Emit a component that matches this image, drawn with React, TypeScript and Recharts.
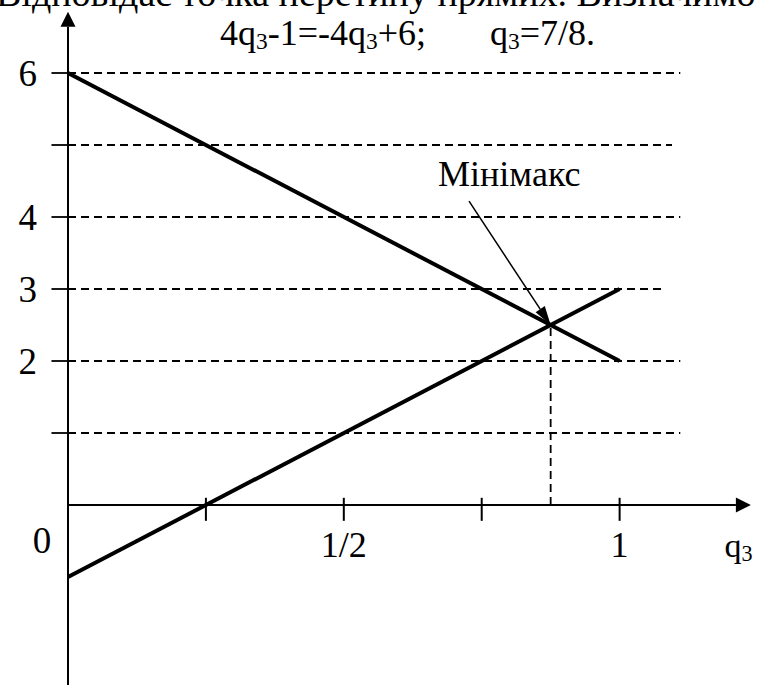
import { ComposedChart, Line, XAxis, YAxis, ReferenceLine, ReferenceDot, Customized } from "recharts";

// two payoff lines over q3 in [0, 1]
const qValues = [0, 1];
const upperLine = [6, 2]; // -4q3 + 6
const lowerLine = [-1, 3]; // 4q3 - 1
const crossQ = 7 / 8;
const crossY = 2.5;

// dashed levels and where each dash run stops on the right
const gridLevels = [6, 5, 4, 3, 2, 1];
const gridEnds = [1.11, 1.095, 1.11, 1.082, 1.11, 1.11];

const yTickLabels = ["6", "4", "3", "2"];
const yTickValues = [6, 4, 3, 2];
const xTickValues = [0.25, 0.5, 0.75, 1];
const xTickLabels = ["1/2", "1"];
const xTickLabelValues = [0.5, 1];

const X_DOMAIN: [number, number] = [0, 1.24];
const Y_DOMAIN: [number, number] = [-2.5, 7];

const FONT = "'Liberation Serif', 'Times New Roman', serif";

const data = qValues.map((q, i) => ({ q, upper: upperLine[i], lower: lowerLine[i] }));

const arrowShape = (head: number, width: number, sw: number) => (props: any) => {
  const { x1, y1, x2, y2 } = props;
  const ang = Math.atan2(y2 - y1, x2 - x1);
  const bx = x2 - head * Math.cos(ang);
  const by = y2 - head * Math.sin(ang);
  const px = (-Math.sin(ang) * width) / 2;
  const py = (Math.cos(ang) * width) / 2;
  return (
    <g>
      <line x1={x1} y1={y1} x2={bx} y2={by} stroke="#000" strokeWidth={sw} />
      <polygon points={`${x2},${y2} ${bx + px},${by + py} ${bx - px},${by - py}`} fill="#000" />
    </g>
  );
};

const textShape = (text: string, size: number, anchor: string) => (props: any) => (
  <text
    x={props.cx}
    y={props.cy}
    dy="0.35em"
    textAnchor={anchor}
    fontFamily={FONT}
    fontSize={size}
    fill="#000"
  >
    {text}
  </text>
);

const SubLabel = ({ x, y, parts, size }: { x: number; y: number; parts: [string, boolean][]; size: number }) => (
  <text x={x} y={y} fontFamily={FONT} fontSize={size} fill="#000">
    {parts.map(([t, sub], i) => (
      <tspan key={i} fontSize={sub ? size * 0.65 : size} dy={sub ? 4 : i > 0 && parts[i - 1][1] ? -4 : 0}>
        {t}
      </tspan>
    ))}
  </text>
);

const Header = () => (
  <g>
    <text x={-4} y={6} fontFamily={FONT} fontSize={38} fill="#000">
      Відповідає точка перетину прямих. Визначимо
    </text>
    <SubLabel
      x={220}
      y={45}
      size={36}
      parts={[
        ["4q", false],
        ["3", true],
        ["-1=-4q", false],
        ["3", true],
        ["+6;", false],
      ]}
    />
    <SubLabel
      x={490}
      y={45}
      size={36}
      parts={[
        ["q", false],
        ["3", true],
        ["=7/8.", false],
      ]}
    />
  </g>
);

export default function App() {
  return (
    <div style={{ position: "absolute", left: 0, top: 0, background: "#fff" }}>
      <ComposedChart
        width={757}
        height={691}
        data={data}
        margin={{ top: 1, right: 5, bottom: 6, left: 68 }}
      >
        <XAxis type="number" dataKey="q" domain={X_DOMAIN} hide allowDataOverflow />
        <YAxis type="number" domain={Y_DOMAIN} hide allowDataOverflow />

        {/* dashed horizontal levels with short solid ticks on the axis */}
        {gridLevels.map((lv, i) => (
          <ReferenceLine
            key={`g${lv}`}
            segment={[
              { x: 0, y: lv },
              { x: gridEnds[i], y: lv },
            ]}
            stroke="#000"
            strokeWidth={1.8}
            strokeDasharray="8 5"
            ifOverflow="visible"
          />
        ))}
        {gridLevels.map((lv) => (
          <ReferenceLine
            key={`yt${lv}`}
            segment={[
              { x: -0.03, y: lv },
              { x: 0.012, y: lv },
            ]}
            stroke="#000"
            strokeWidth={1.8}
            ifOverflow="visible"
          />
        ))}

        {/* axes with arrow heads */}
        <ReferenceLine
          segment={[
            { x: 0, y: -2.5 },
            { x: 0, y: 6.85 },
          ]}
          shape={arrowShape(15, 15, 2)}
          ifOverflow="visible"
        />
        <ReferenceLine
          segment={[
            { x: 0, y: 0 },
            { x: 1.238, y: 0 },
          ]}
          shape={arrowShape(15, 15, 2)}
          ifOverflow="visible"
        />
        {xTickValues.map((v) => (
          <ReferenceLine
            key={`xt${v}`}
            segment={[
              { x: v, y: 0.1 },
              { x: v, y: -0.22 },
            ]}
            stroke="#000"
            strokeWidth={2}
            ifOverflow="visible"
          />
        ))}

        {/* drop line from the crossing point */}
        <ReferenceLine
          segment={[
            { x: crossQ, y: 0 },
            { x: crossQ, y: crossY },
          ]}
          stroke="#000"
          strokeWidth={1.8}
          strokeDasharray="8 5"
          ifOverflow="visible"
        />

        <Line dataKey="upper" type="linear" stroke="#000" strokeWidth={4} dot={false} isAnimationActive={false} />
        <Line dataKey="lower" type="linear" stroke="#000" strokeWidth={4} dot={false} isAnimationActive={false} />

        {/* pointer to the minimax point */}
        <ReferenceLine
          segment={[
            { x: 0.727, y: 4.22 },
            { x: crossQ, y: crossY },
          ]}
          shape={arrowShape(19, 11, 1.5)}
          ifOverflow="visible"
        />
        <ReferenceDot x={0.8} y={4.6} r={0} ifOverflow="visible" shape={textShape("Мінімакс", 36, "middle")} />

        {yTickValues.map((v, i) => (
          <ReferenceDot
            key={`yl${v}`}
            x={-0.056}
            y={v}
            r={0}
            ifOverflow="visible"
            shape={textShape(yTickLabels[i], 37, "end")}
          />
        ))}
        {xTickLabelValues.map((v, i) => (
          <ReferenceDot
            key={`xl${v}`}
            x={v}
            y={-0.55}
            r={0}
            ifOverflow="visible"
            shape={textShape(xTickLabels[i], 36, "middle")}
          />
        ))}
        <ReferenceDot x={-0.047} y={-0.49} r={0} ifOverflow="visible" shape={textShape("0", 37, "middle")} />
        <ReferenceDot
          x={1.19}
          y={-0.55}
          r={0}
          ifOverflow="visible"
          shape={(p: any) => <SubLabel x={p.cx} y={p.cy + 12} size={34} parts={[["q", false], ["3", true]]} />}
        />

        <Customized component={Header} />
      </ComposedChart>
    </div>
  );
}
